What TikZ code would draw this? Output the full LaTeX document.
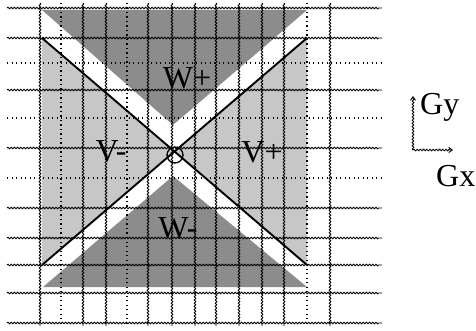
\documentclass[tikz,border=0pt]{standalone}
\usepackage{fontspec}
\setmainfont{Liberation Serif}
\usetikzlibrary{decorations.pathmorphing,arrows.meta}
\begin{document}
\begin{tikzpicture}[x=1pt,y=-1pt,
  wavy/.style={decorate,decoration={snake,amplitude=0.8pt,segment length=3.2pt,post length=2pt},line width=0.9pt},
  dotln/.style={line width=1.6pt,dash pattern=on 1.2pt off 3.3pt},
  lightfill/.style={fill=black!22},
  darkfill/.style={fill=black!45},
  diag/.style={line width=1.9pt},
  lbl/.style={font=\fontsize{32}{34}\selectfont,inner sep=0pt},
  axis/.style={wavy,-{Straight Barb[length=3.5pt,width=5pt]}}]
\useasboundingbox (0,0) rectangle (476,331);
% corner points
\coordinate (TL) at (42,38);
\coordinate (TR) at (307,38);
\coordinate (BL) at (42,265);
\coordinate (BR) at (307,265);
\coordinate (C) at (174.5,151.5);
% light regions V- and V+
\fill[lightfill] (TL) -- (C) -- (BL) -- cycle;
\fill[lightfill] (TR) -- (C) -- (BR) -- cycle;
% dark regions W+ and W-
\fill[darkfill] (42,10) -- (307,10) -- (173,125) -- cycle;
\fill[darkfill] (43,287) -- (307,287) -- (173,176) -- cycle;
% grid
\foreach \y in {8,38,90,148,208,238,265,293,323}
  \draw[wavy] (7,\y) -- (382,\y);
\foreach \y in {63,118,178}
  \draw[dotln] (7,\y) -- (382,\y);
\foreach \x in {40,83,106,148,172,195,216,239,262,284,330}
  \draw[wavy] (\x,3) -- (\x,326);
\foreach \x in {61,127,307}
  \draw[dotln] (\x,3) -- (\x,326);
% diagonals
\draw[diag] (TL) -- (BR);
\draw[diag] (BL) -- (TR);
% centre circle
\node[circle,draw,line width=1.3pt,minimum size=16pt,inner sep=0pt] (o) at (175,155) {};
% labels
\node[lbl] (wp) at (187,78) {W+};
\node[lbl] (vm) at (111,151) {V-};
\node[lbl] (vp) at (262,152) {V+};
\node[lbl] (wm) at (178,228) {W-};
% axes
\coordinate (ax0) at (413,150);
\coordinate (axy) at (413,96);
\coordinate (axx) at (453,150);
\draw[axis] (ax0) -- (axy);
\draw[axis] (ax0) -- (axx);
\node[lbl,anchor=base west] (gy) at (420,115) {Gy};
\node[lbl,anchor=base west] (gx) at (436,186) {Gx};
\end{tikzpicture}
\end{document}
